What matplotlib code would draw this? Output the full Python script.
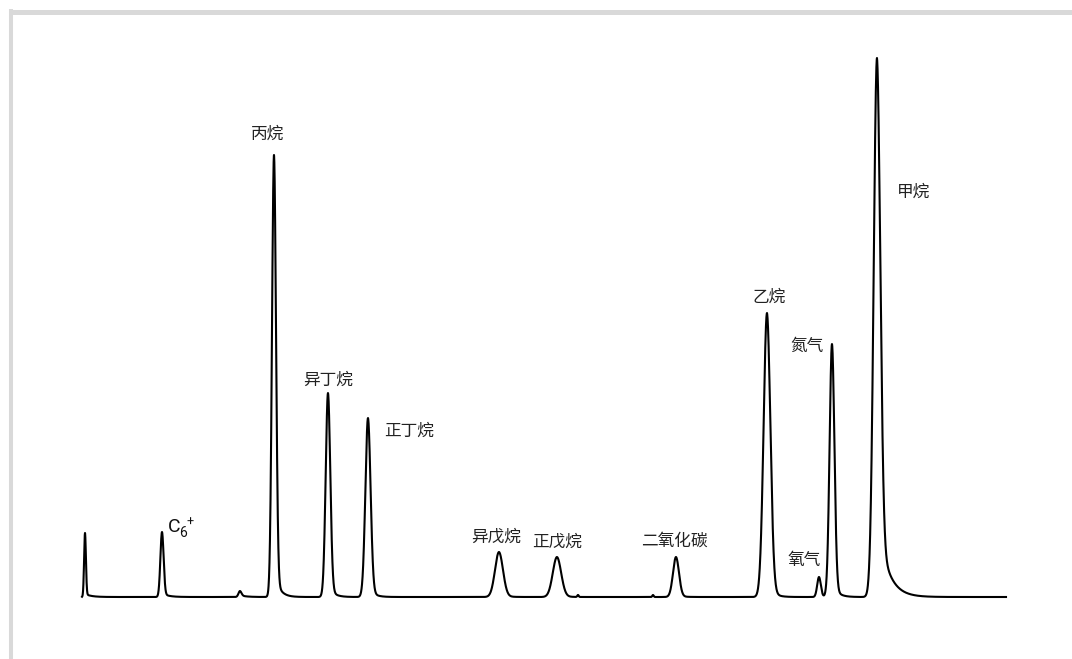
import numpy as np
import matplotlib
matplotlib.use("Agg")
import matplotlib.pyplot as plt
from matplotlib.lines import Line2D
from matplotlib.transforms import offset_copy

plt.rcParams['font.family'] = ['Noto Sans CJK SC', 'DejaVu Sans']

# peaks (arbitrary time units, signal above baseline)
names = ["", "C6+", "", "丙烷", "异丁烷", "正丁烷", "异戊烷", "正戊烷", "", "",
         "二氧化碳", "乙烷", "氧气", "氮气", "甲烷"]
rt = [3, 80, 158, 192, 246, 286, 417, 475, 496, 571, 594, 685, 737, 750, 795]
height = [64, 65, 6, 442, 204, 179, 45, 40, 2, 2, 40, 284, 20, 253, 539]
sigma = [0.9, 1.6, 1.5, 2.0, 2.3, 2.6, 4.0, 4.2, 0.7, 0.7, 3.0, 3.4, 1.8, 2.4, 3.3]
tail = [0.05, 0.06, 0.3, 0.06, 0.06, 0.06, 0.05, 0.05, 0.0, 0.0, 0.05, 0.06, 0.05, 0.06, 0.16]
tau = [6, 6, 6, 5, 5, 5, 6, 6, 1, 1, 5, 5, 4, 5, 9.7]

# label offsets from each peak top (x, y, ha)
label_pos = {
    "丙烷": (-6, 21, "center"),
    "异丁烷": (0, 13, "center"),
    "正丁烷": (16, -13, "left"),
    "异戊烷": (-3, 15, "center"),
    "正戊烷": (0, 15, "center"),
    "二氧化碳": (-2, 16, "center"),
    "乙烷": (2, 16, "center"),
    "氧气": (-15, 16, "center"),
    "氮气": (-25, -2, "center"),
    "甲烷": (20, -134, "left"),
}


def peak(x, mu, h, s, t, tt):
    g = np.exp(-0.5 * ((x - mu) / s) ** 2)
    tl = np.where(x >= mu, np.exp(-np.clip(x - mu, 0, None) / tt), g)
    return h * ((1 - t) * g + t * tl)


x = np.linspace(0, 924, 8000)
y = np.zeros_like(x)
for i in range(len(rt)):
    y += peak(x, rt[i], height[i], sigma[i], tail[i], tau[i])

W, H = 1072, 659
fig = plt.figure(figsize=(W / 100, H / 100), dpi=100)
ax = fig.add_axes([82 / W, (H - 597) / H, 924 / W, 560 / H])
ax.set_xlim(0, 924)
ax.set_ylim(0, 560)
ax.axis("off")

ax.plot(x, y, color="black", lw=1.5, clip_on=False, solid_joinstyle="round")

narrow = ["Liberation Sans Narrow", "Roboto", "DejaVu Sans"]
for i, n in enumerate(names):
    if n == "":
        continue
    if n == "C6+":
        # C with subscript 6 and superscript +, pieces placed in pixel offsets
        for s, ox, oy, fs in [("C", 6, 5, 14), ("6", 17.5, -1, 10), ("+", 24.5, 10, 9)]:
            tr = offset_copy(ax.transData, fig=fig, x=ox, y=oy, units="dots")
            ax.text(rt[i], height[i], s, transform=tr, ha="left", va="center",
                    fontsize=fs, color="#111111", family=narrow)
        continue
    dx, dy, ha = label_pos[n]
    ax.text(rt[i] + dx, height[i] + dy, n, ha=ha, va="center",
            fontsize=12, color="#222222")

# grey frame on top and left
fig.add_artist(Line2D([9 / W, 1], [1 - 11.5 / H, 1 - 11.5 / H],
                      transform=fig.transFigure, color="#d9d9d9", lw=3.6,
                      solid_capstyle="butt"))
fig.add_artist(Line2D([10.5 / W, 10.5 / W], [0, 1 - 9 / H],
                      transform=fig.transFigure, color="#d9d9d9", lw=2.9,
                      solid_capstyle="butt"))

fig.savefig("out.png", dpi=100)
